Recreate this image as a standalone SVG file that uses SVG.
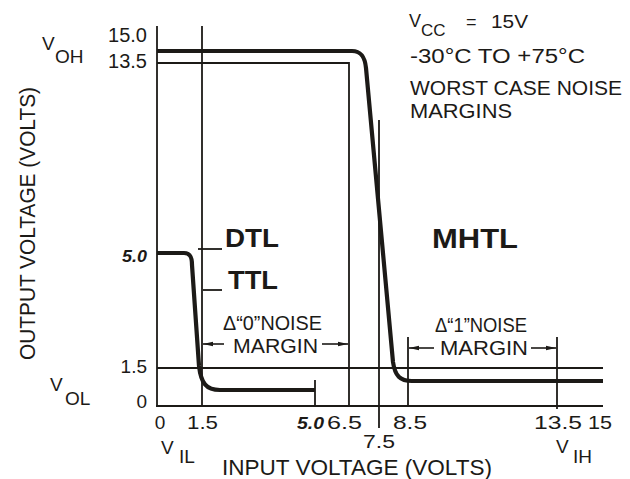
<svg xmlns="http://www.w3.org/2000/svg" width="630" height="479" viewBox="0 0 630 479">
<defs>
<style>
.t{font-family:"Liberation Sans","DejaVu Sans",Arial,sans-serif;fill:#1c1a17}
.b{font-family:"Liberation Sans","DejaVu Sans",Arial,sans-serif;font-weight:bold;fill:#1c1a17}
.thin{stroke:#1c1a17;stroke-width:1.8;fill:none}
.heavy{stroke:#1c1a17;stroke-width:4.2;fill:none;stroke-linejoin:round;stroke-linecap:butt}
.arr{stroke:#1c1a17;stroke-width:1.6;fill:none}
</style>
<marker id="ah" viewBox="0 0 10 6" refX="10" refY="3" markerWidth="10" markerHeight="6" markerUnits="userSpaceOnUse" orient="auto">
<path d="M0,0.8 L10,3 L0,5.2 Z" fill="#1c1a17"/>
</marker>
</defs>
<rect width="630" height="479" fill="#ffffff"/>

<g id="axes">
<line class="thin" x1="157" y1="26" x2="157" y2="406"/>
<line class="thin" x1="156" y1="406" x2="603" y2="406"/>
</g>

<g id="gridlines">
<line class="thin" x1="202" y1="26" x2="202" y2="406"/>
<polyline class="thin" points="157,63 349,63 349,406"/>
<line class="thin" x1="379" y1="120" x2="379" y2="428"/>
<line class="thin" x1="408" y1="337" x2="408" y2="406"/>
<line class="thin" x1="557" y1="337" x2="557" y2="409"/>
<line class="thin" x1="157" y1="368" x2="603" y2="368"/>
<line class="thin" x1="315" y1="380" x2="315" y2="406"/>
<line class="thin" x1="198" y1="249" x2="222" y2="249"/>
<line class="thin" x1="203" y1="290" x2="222" y2="290"/>
</g>

<g id="curves">
<path id="mhtl-curve" class="heavy" d="M157,51 L352,51 C362,51 365,58 366,68 L393,362 C395,376 400,381 412,381 L603,381"/>
<path id="dtl-curve" class="heavy" d="M157,253 L184,253 C190,253 192,257 192,265 L199,366 C201,383 206,390 220,390 L315,390"/>
</g>

<g id="connectors">
<line class="arr" x1="224" y1="344" x2="203" y2="344" marker-end="url(#ah)"/>
<line class="arr" x1="322" y1="344" x2="348" y2="344" marker-end="url(#ah)"/>
<line class="arr" x1="434" y1="348" x2="409" y2="348" marker-end="url(#ah)"/>
<line class="arr" x1="531" y1="348" x2="556" y2="348" marker-end="url(#ah)"/>
</g>

<g id="y-labels">
<text class="t" font-size="20" x="147" y="42" text-anchor="end">15.0</text>
<text class="t" font-size="20" x="147" y="68" text-anchor="end">13.5</text>
<text class="t"><tspan x="42" y="50" font-size="19">V</tspan><tspan x="55" y="63" font-size="19">OH</tspan></text>
<text class="b" font-size="17" font-style="italic" x="147" y="262" text-anchor="end" textLength="25" lengthAdjust="spacingAndGlyphs">5.0</text>
<text class="t" font-size="19" x="147" y="373" text-anchor="end">1.5</text>
<text class="t"><tspan x="50" y="391" font-size="19">V</tspan><tspan x="65" y="405" font-size="19">OL</tspan></text>
<text class="t" font-size="19" x="147" y="408" text-anchor="end">0</text>
<text class="t" font-size="22" transform="translate(35,360) rotate(-90)" textLength="273" lengthAdjust="spacingAndGlyphs">OUTPUT VOLTAGE (VOLTS)</text>
</g>

<g id="x-labels">
<text class="t" font-size="19" x="160" y="429" text-anchor="middle">0</text>
<text class="t" font-size="19" x="187" y="429" textLength="31" lengthAdjust="spacingAndGlyphs">1.5</text>
<text class="b" font-size="17" font-style="italic" x="297" y="429" textLength="27" lengthAdjust="spacingAndGlyphs">5.0</text>
<text class="t" font-size="19" x="327" y="429" textLength="35" lengthAdjust="spacingAndGlyphs">6.5</text>
<text class="t" font-size="19" x="393" y="429" textLength="34" lengthAdjust="spacingAndGlyphs">8.5</text>
<text class="t" font-size="19" x="363" y="448" textLength="32" lengthAdjust="spacingAndGlyphs">7.5</text>
<text class="t" font-size="19" x="534" y="429" textLength="48" lengthAdjust="spacingAndGlyphs">13.5</text>
<text class="t" font-size="19" x="588" y="429" textLength="24" lengthAdjust="spacingAndGlyphs">15</text>
<text class="t"><tspan x="161" y="454" font-size="19">V</tspan><tspan x="179" y="463" font-size="19">IL</tspan></text>
<text class="t"><tspan x="556" y="453" font-size="19">V</tspan><tspan x="573" y="463" font-size="19">IH</tspan></text>
<text class="t" font-size="22" x="222" y="475" textLength="270" lengthAdjust="spacingAndGlyphs">INPUT VOLTAGE (VOLTS)</text>
</g>

<g id="conditions">
<text class="t"><tspan x="409" y="27" font-size="18">V</tspan><tspan x="421" y="36" font-size="17">CC</tspan><tspan x="466" y="28" font-size="18">=</tspan><tspan x="491" y="28" font-size="18" textLength="37" lengthAdjust="spacingAndGlyphs">15V</tspan></text>
<text class="t" font-size="20" x="410" y="63" textLength="175" lengthAdjust="spacingAndGlyphs">-30°C TO +75°C</text>
<text class="t" font-size="21" x="410" y="95" textLength="212" lengthAdjust="spacingAndGlyphs">WORST CASE NOISE</text>
<text class="t" font-size="21" x="410" y="118" textLength="102" lengthAdjust="spacingAndGlyphs">MARGINS</text>
</g>

<g id="family-labels">
<text id="dtl" class="b" font-size="26" x="225" y="247" textLength="54" lengthAdjust="spacingAndGlyphs">DTL</text>
<text id="ttl" class="b" font-size="26" x="228" y="289" textLength="50" lengthAdjust="spacingAndGlyphs">TTL</text>
<text id="mhtl" class="b" font-size="28" x="432" y="248" textLength="86" lengthAdjust="spacingAndGlyphs">MHTL</text>
</g>

<g id="noise-margin-0">
<text class="t" font-size="20" x="223" y="330" textLength="99" lengthAdjust="spacingAndGlyphs">Δ“0”NOISE</text>
<text class="t" font-size="20" x="233" y="353" textLength="85" lengthAdjust="spacingAndGlyphs">MARGIN</text>
</g>
<g id="noise-margin-1">
<text class="t" font-size="20" x="435" y="332" textLength="92" lengthAdjust="spacingAndGlyphs">Δ“1”NOISE</text>
<text class="t" font-size="20" x="440" y="355" textLength="88" lengthAdjust="spacingAndGlyphs">MARGIN</text>
</g>
</svg>
